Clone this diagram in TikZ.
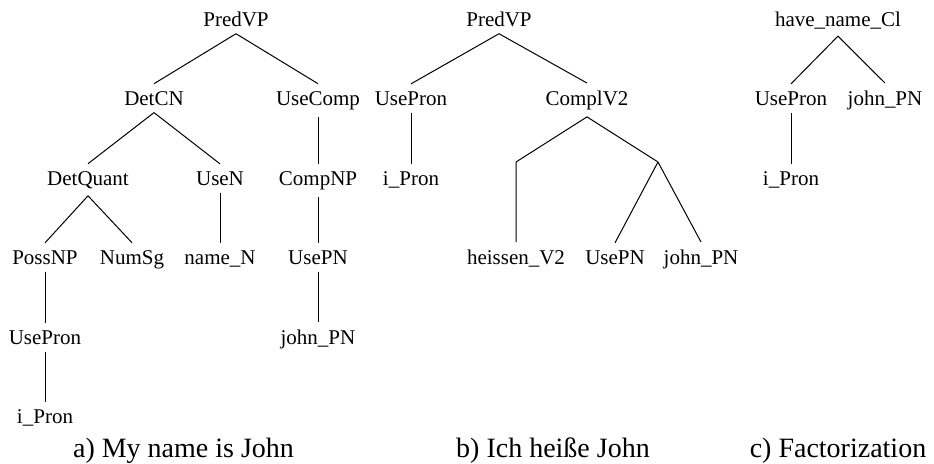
\documentclass[tikz,border=0pt]{standalone}
\usepackage{fontspec}
\setmainfont{Liberation Serif}
\usepackage{tikz}

\begin{document}
\begin{tikzpicture}[x=0.5pt, y=-0.5pt]
        \tikzstyle{lbl} = [anchor=base, font=\fontsize{10.5}{12}\selectfont, inner sep=3.5pt]
        \tikzstyle{caption} = [anchor=base, font=\fontsize{14}{16}\selectfont]
        \tikzstyle{edge} = [line width=0.5pt]
        \useasboundingbox (0,0) rectangle (934,463);
        % a) My name is John
		\node [lbl] (a1) at (236, 26) {PredVP};
		\node [lbl] (a2) at (154, 105) {DetCN};
		\node [lbl] (a3) at (318, 105) {UseComp};
		\node [lbl] (a4) at (88, 185) {DetQuant};
		\node [lbl] (a5) at (220, 185) {UseN};
		\node [lbl] (a6) at (318, 185) {CompNP};
		\node [lbl] (a7) at (45, 264) {PossNP};
		\node [lbl] (a8) at (132, 264) {NumSg};
		\node [lbl] (a9) at (220, 264) {name\_N};
		\node [lbl] (a10) at (318, 264) {UsePN};
		\node [lbl] (a11) at (45, 344) {UsePron};
		\node [lbl] (a12) at (318, 344) {john\_PN};
		\node [lbl] (a13) at (45, 423) {i\_Pron};
		\draw[edge] (a1.south) to (a2.north);
		\draw[edge] (a1.south) to (a3.north);
		\draw[edge] (a2.south) to (a4.north);
		\draw[edge] (a2.south) to (a5.north);
		\draw[edge] (a3.south) to (a6.north);
		\draw[edge] (a4.south) to (a7.north);
		\draw[edge] (a4.south) to (a8.north);
		\draw[edge] (a5.south) to (a9.north);
		\draw[edge] (a6.south) to (a10.north);
		\draw[edge] (a7.south) to (a11.north);
		\draw[edge] (a10.south) to (a12.north);
		\draw[edge] (a11.south) to (a13.north);
        % b) Ich heisse John
		\node [lbl] (b1) at (499, 26) {PredVP};
		\node [lbl] (b2) at (411, 105) {UsePron};
		\node [lbl] (b3) at (587, 105) {ComplV2};
		\node [lbl] (b4) at (411, 185) {i\_Pron};
		\coordinate (bl) at (516, 162);
		\coordinate (br) at (658, 162);
		\node [lbl] (b5) at (516, 264) {heissen\_V2};
		\node [lbl] (b6) at (615, 264) {UsePN};
		\node [lbl] (b7) at (701, 264) {john\_PN};
		\draw[edge] (b1.south) to (b2.north);
		\draw[edge] (b1.south) to (b3.north);
		\draw[edge] (b2.south) to (b4.north);
		\draw[edge] (b3.south) to (bl) to (b5.north);
		\draw[edge] (b3.south) to (br);
		\draw[edge] (br) to (b6.north);
		\draw[edge] (br) to (b7.north);
        % c) Factorization
		\node [lbl] (c1) at (838, 26) {have\_name\_Cl};
		\node [lbl] (c2) at (791, 105) {UsePron};
		\node [lbl] (c3) at (885, 105) {john\_PN};
		\node [lbl] (c4) at (791, 185) {i\_Pron};
		\draw[edge] (c1.south) to (c2.north);
		\draw[edge] (c1.south) to (c3.north);
		\draw[edge] (c2.south) to (c4.north);
        % captions
		\node [caption] (capa) at (183.5, 457) {a) My name is John};
		\node [caption] (capb) at (553, 457) {b) Ich heiße John};
		\node [caption] (capc) at (838, 457) {c) Factorization};
    \end{tikzpicture}
\end{document}
